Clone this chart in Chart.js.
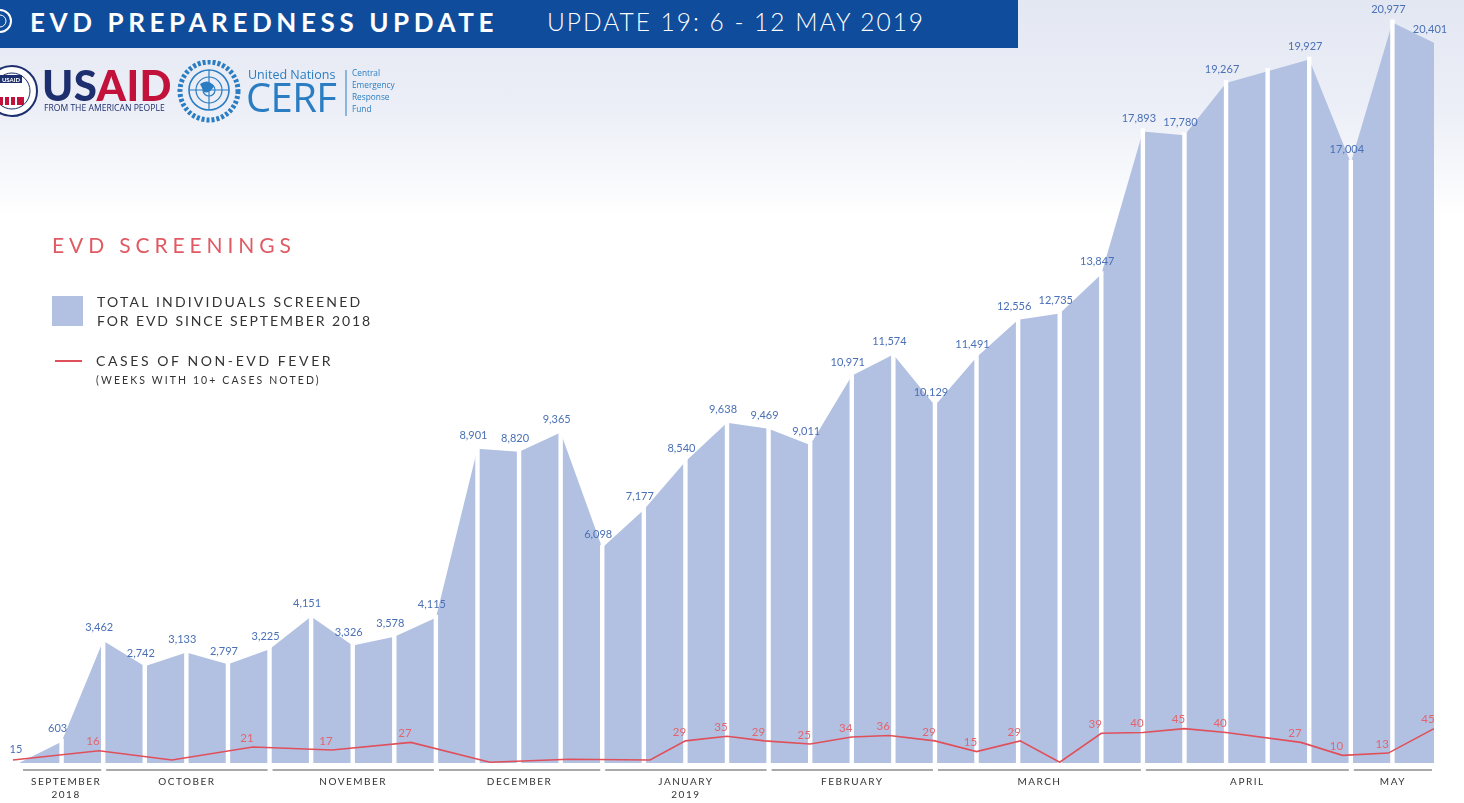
<!DOCTYPE html>
<html><head><meta charset="utf-8">
<script src="https://cdn.jsdelivr.net/npm/chart.js@4.4.1/dist/chart.umd.min.js"></script>
<style>
html,body{margin:0;padding:0;}
body{width:1464px;height:803px;overflow:hidden;position:relative;
 background:linear-gradient(180deg,#e3e7f2 0px,#eceff7 110px,#f8f9fc 180px,#ffffff 215px);
 font-family:Lato,"Open Sans",sans-serif;}
#c{position:absolute;left:0;top:0;}
.abs{position:absolute;white-space:nowrap;}
.hdr{left:0;top:0;width:1018px;height:48px;background:#0f4c9c;}
.t1{left:30px;top:5px;font-size:26px;font-weight:700;color:#fff;letter-spacing:4.6px;line-height:34px;}
.t2{left:547px;top:5px;font-size:24.5px;font-weight:300;color:#fff;letter-spacing:2px;line-height:34px;}
.lt{left:52px;top:231px;font-size:21px;color:#e05a63;letter-spacing:4.9px;line-height:28px;}
.lg{left:97px;font-size:14px;color:#333;letter-spacing:2px;line-height:18px;}
.lg2{left:96px;font-size:10.5px;color:#333;letter-spacing:2.1px;}
</style></head>
<body>
<canvas id="c" width="1464" height="803"></canvas>
<div class="abs hdr"></div>
<svg class="abs" style="left:0;top:0" width="20" height="48"><circle cx="0" cy="21" r="11" fill="none" stroke="#fff" stroke-width="2"/><circle cx="0" cy="21" r="6" fill="none" stroke="#fff" stroke-width="1"/></svg>
<div class="abs t1">EVD PREPAREDNESS UPDATE</div>
<div class="abs t2">UPDATE 19: 6 - 12 MAY 2019</div>

<!-- logos -->
<svg class="abs" style="left:0;top:60px" width="400" height="64">
 <circle cx="12" cy="31" r="25" fill="#fff" stroke="#1d2f6e" stroke-width="2"/>
 <circle cx="12" cy="31" r="18" fill="#fff" stroke="#1d2f6e" stroke-width="1"/>
 <rect x="0" y="15" width="22" height="8" fill="#1d2f6e"/>
 <text x="11" y="22" font-size="6" fill="#fff" text-anchor="middle" font-family="Lato" font-weight="700">USAID</text>
 <rect x="0" y="37" width="24" height="8" fill="#c2113a"/>
 <rect x="3" y="37" width="2" height="8" fill="#fff"/><rect x="9" y="37" width="2" height="8" fill="#fff"/><rect x="15" y="37" width="2" height="8" fill="#fff"/>
 <text x="42" y="41" font-size="42" font-weight="900" font-family="Lato,'Open Sans'" fill="#1d2f6e" letter-spacing="0.4">US<tspan fill="#c2113a">AID</tspan></text>
 <text x="44" y="51" font-size="8.6" font-family="'Liberation Sans Narrow','Open Sans',Lato" fill="#1d2f6e">FROM THE AMERICAN PEOPLE</text>
 <circle cx="209" cy="31" r="29" fill="none" stroke="#2a7dc2" stroke-width="5" stroke-dasharray="3 2"/>
 <circle cx="209" cy="30" r="20" fill="none" stroke="#2a7dc2" stroke-width="1.6"/>
 <circle cx="209" cy="30" r="13" fill="none" stroke="#2a7dc2" stroke-width="1.2"/>
 <circle cx="209" cy="30" r="6" fill="none" stroke="#2a7dc2" stroke-width="1.2"/>
 <line x1="189" y1="30" x2="229" y2="30" stroke="#2a7dc2" stroke-width="1.2"/>
 <line x1="209" y1="10" x2="209" y2="50" stroke="#2a7dc2" stroke-width="1.2"/>
 <path d="M200 24 q8 -6 14 2 q-4 8 -10 6 z" fill="#2a7dc2"/>
 <text x="248" y="19" font-size="12.5" font-family="'Open Sans',Lato" fill="#2a7dc2">United Nations</text>
 <text x="246" y="52" font-size="40" font-family="'Open Sans',Lato" fill="#2a7dc2" letter-spacing="-0.6">CERF</text>
 <line x1="346" y1="10" x2="346" y2="56" stroke="#2a7dc2" stroke-width="1"/>
 <text font-size="8.3" font-family="'Open Sans',Lato" fill="#2a7dc2"><tspan x="352" y="16">Central</tspan><tspan x="352" y="28">Emergency</tspan><tspan x="352" y="40">Response</tspan><tspan x="352" y="52">Fund</tspan></text>
</svg>

<!-- legend -->
<div class="abs lt">EVD SCREENINGS</div>
<div class="abs" style="left:52px;top:296px;width:31px;height:30px;background:#b2c1e2;"></div>
<div class="abs lg" style="top:293px;letter-spacing:2.2px;">TOTAL INDIVIDUALS SCREENED</div>
<div class="abs lg" style="top:312px;letter-spacing:1.9px;">FOR EVD SINCE SEPTEMBER 2018</div>
<div class="abs" style="left:55px;top:360px;width:27px;height:2px;background:#e0505b;"></div>
<div class="abs lg" style="left:96px;top:352px;letter-spacing:2.6px;">CASES OF NON-EVD FEVER</div>
<div class="abs lg2" style="top:374px;">(WEEKS WITH 10+ CASES NOTED)</div>

<script>
// ---- data ----
const screened = [15,603,3462,2742,3133,2797,3225,4151,3326,3578,4115,8901,8820,9365,6098,7177,8540,9638,9469,9011,10971,11574,10129,11491,12556,12735,13847,17893,17780,19267,19600,19927,17004,20977,20401];
const unlabeledWeeks = [30];
const feverWeek  = [-0.17,1.9,3.65,5.6,7.5,9.4,11.3,13.2,15.15,16,17,17.9,19,20,20.9,22,23,24.05,25,26,27,28,29,30.8,31.8,32.9,34];
const feverCases = [4,16,4,21,17,27,1,5,4,29,35,29,25,34,36,29,15,29,1,39,40,45,40,27,10,13,45];
const monthNames = ['SEPTEMBER','OCTOBER','NOVEMBER','DECEMBER','JANUARY','FEBRUARY','MARCH','APRIL','MAY'];
const monthYears = ['2018','','','','2019','','','',''];
const monthStart = [0,2,6,10,14,18,22,27,32];
const monthEnd   = [2,6,10,14,18,22,27,32,34];

const BLUE_FILL = '#b2c1e2', BLUE_TXT = '#4a70b6', RED = '#e0505b', RED_TXT = '#e4646d';

const gapPlugin = {
  id: 'gaps',
  afterDatasetDraw(chart, args) {
    if (args.index !== 0) return;
    const ctx = chart.ctx, xs = chart.scales.x, ys = chart.scales.y;
    const base = ys.getPixelForValue(0);
    ctx.save();
    ctx.fillStyle = '#ffffff';
    for (let i = 1; i < screened.length - 1; i++) {
      const x = xs.getPixelForValue(i);
      const yt = ys.getPixelForValue(screened[i]);
      ctx.fillRect(x - 2.2, yt - 3, 4.4, base - yt + 3);
    }
    ctx.restore();
  },
  afterDatasetsDraw(chart) {
    const ctx = chart.ctx, xs = chart.scales.x, ys = chart.scales.y, y2 = chart.scales.y2;
    ctx.save();
    // blue value labels
    ctx.font = '11px Lato, "Open Sans", sans-serif';
    ctx.fillStyle = BLUE_TXT;
    ctx.textAlign = 'center'; ctx.textBaseline = 'middle';
    screened.forEach((v, i) => {
      if (unlabeledWeeks.includes(i)) return;
      const x = xs.getPixelForValue(i), y = ys.getPixelForValue(v);
      ctx.fillText(v.toLocaleString('en-US'), x - 4, y - 13);
    });
    // red labels
    ctx.fillStyle = RED_TXT;
    ctx.font = '11.5px Lato, "Open Sans", sans-serif';
    feverCases.forEach((v, i) => {
      if (v < 10) return;
      const x = xs.getPixelForValue(feverWeek[i]), y = y2.getPixelForValue(v);
      ctx.fillText(String(v), x - 6, y - 9);
    });
    // month axis
    const lineY = ys.getPixelForValue(0) + 7;
    ctx.font = '10px Lato, "Open Sans", sans-serif';
    monthNames.forEach((m, i) => {
      const a = xs.getPixelForValue(monthStart[i]) + 3, b = xs.getPixelForValue(monthEnd[i]) - 2;
      ctx.fillStyle = '#a9a9a9';
      ctx.fillRect(a, lineY - 1, b - a, 2);
      const cx = (a + b) / 2 + (i === 0 ? 4 : 0);
      ctx.fillStyle = '#333';
      ctx.letterSpacing = '1.5px';
      ctx.fillText(m, cx, lineY + 12);
      if (monthYears[i]) ctx.fillText(monthYears[i], cx, lineY + 25);
    });
    ctx.restore();
  }
};

new Chart(document.getElementById('c'), {
  type: 'line',
  data: {
    datasets: [
      { label: 'Total individuals screened', data: screened.map((v, i) => ({x: i, y: v})),
        backgroundColor: BLUE_FILL, borderColor: BLUE_FILL, borderWidth: 0, fill: 'origin',
        pointRadius: 0, tension: 0, order: 1, yAxisID: 'y' },
      { label: 'Cases of non-EVD fever', data: feverWeek.map((w, i) => ({x: w, y: feverCases[i]})),
        borderColor: RED, borderWidth: 1.6, fill: false, pointRadius: 0, tension: 0, order: 0, yAxisID: 'y2' }
    ]
  },
  options: {
    responsive: false, animation: false,
    layout: { padding: { left: 11.68, right: 30, top: 0, bottom: 40 } },
    plugins: { legend: { display: false }, tooltip: { enabled: false } },
    scales: {
      x: { type: 'linear', min: -0.2, max: 34, display: false },
      y: { min: 0, max: 21615, display: false },
      y2: { min: 0, max: 1000, display: false }
    }
  },
  plugins: [gapPlugin]
});
</script>
</body></html>
